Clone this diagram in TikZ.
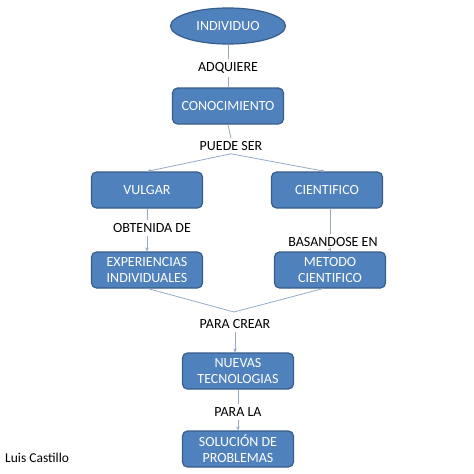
\documentclass[tikz,border=0pt]{standalone}
\usepackage{fontspec}
\setmainfont{Carlito}
\usetikzlibrary{arrows.meta,shapes.geometric}
\definecolor{boxfill}{RGB}{79,129,189}
\definecolor{boxline}{RGB}{56,93,138}
\definecolor{conn}{RGB}{150,170,200}
\tikzset{
  bluebox/.style={draw=boxline, fill=boxfill, line width=1.2pt, rounded corners=5pt,
    minimum width=111pt, minimum height=36pt, text=white, align=center,
    font=\fontsize{14}{16}\selectfont, inner sep=2pt},
  ovalbox/.style={ellipse, draw=boxline, fill=boxfill, line width=1.2pt,
    minimum width=115pt, minimum height=36pt, text=white, inner sep=0pt,
    font=\fontsize{14}{16}\selectfont},
  lbl/.style={font=\fontsize{14}{16}\selectfont, inner sep=3pt, text=black},
  conline/.style={draw=conn, line width=0.8pt},
  conarrow/.style={conline, -{Stealth[length=4pt,width=3.5pt]}}
}
\begin{document}
\begin{tikzpicture}[x=1pt,y=-1pt]
\useasboundingbox (0,0) rectangle (474,474);
\fill[white] (0,0) rectangle (474,474);
\node[ovalbox] (ind) at (228,26) {INDIVIDUO};
\node[lbl] (adq) at (228,68) {ADQUIERE};
\node[bluebox] (con) at (228,106) {CONOCIMIENTO};
\node[lbl] (pue) at (231,146) {PUEDE SER};
\node[bluebox] (vul) at (147,190) {VULGAR};
\node[bluebox] (cie) at (327,190) {CIENTIFICO};
\node[lbl] (obt) at (152,228) {OBTENIDA DE};
\node[lbl] (bas) at (333,242) {BASANDOSE EN};
\node[bluebox] (exp) at (147,270) {EXPERIENCIAS\\INDIVIDUALES};
\node[bluebox] (met) at (330,270) {METODO\\CIENTIFICO};
\coordinate (apex) at (234,312);
\node[lbl] (par) at (235,324) {PARA CREAR};
\node[bluebox] (nue) at (238,371) {NUEVAS\\TECNOLOGIAS};
\node[lbl] (pla) at (238,412) {PARA LA};
\node[bluebox] (sol) at (238,449) {SOLUCIÓN DE\\PROBLEMAS};
\node[anchor=west, font=\fontsize{13.5}{16}\selectfont, inner sep=0pt] (aut) at (5,458) {Luis Castillo};

\draw[conline] (ind.south) -- (adq.north);
\draw[conline] (adq.south) -- (con.north);
\draw[conline] (con.south) -- (pue.north);
\draw[conarrow] (pue.south) -- (vul.north);
\draw[conarrow] (pue.south) -- ([xshift=-2pt]cie.north);
\draw[conline] (vul.south) -- (vul.south |- obt.north);
\draw[conarrow] (vul.south |- obt.south) -- (exp.north);
\draw[conline] ([xshift=3pt]cie.south) -- ([xshift=3pt]cie.south |- bas.north);
\draw[conarrow] ([xshift=3pt]cie.south |- bas.south) -- ([xshift=1pt]met.north);
\draw[conline] ([xshift=1pt]exp.south) -- (apex);
\draw[conline] ([xshift=-7pt]met.south) -- (apex);
\draw[conarrow] (par.south -| nue.north) ++(-3pt,0) -- ([xshift=-3pt]nue.north);
\draw[conline] (nue.south) -- (pla.north);
\draw[conarrow] (pla.south) -- (sol.north);
\end{tikzpicture}
\end{document}
